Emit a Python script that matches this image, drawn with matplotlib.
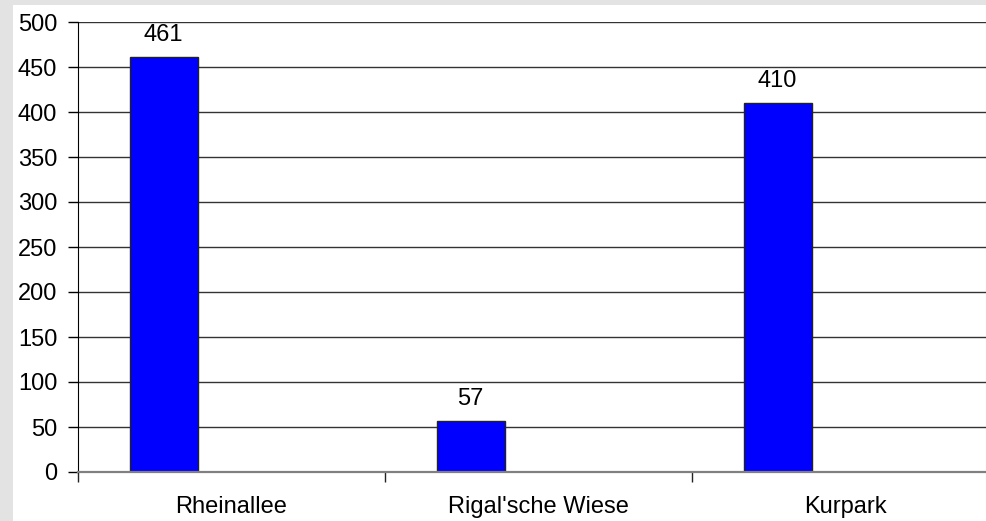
import matplotlib.pyplot as plt
from matplotlib.patches import Rectangle
import numpy as np

plt.rcParams["font.family"] = ["Liberation Sans", "DejaVu Sans"]

categories = ["Rheinallee", "Rigal'sche Wiese", "Kurpark"]
values = [461, 57, 410]
y_ticks = [0, 50, 100, 150, 200, 250, 300, 350, 400, 450, 500]

W, H = 986, 521
fig = plt.figure(figsize=(W / 100, H / 100), dpi=100, facecolor="#e3e3e3")

# white chart panel on top of the grey backdrop
fig.patches.append(Rectangle((13 / W, 0), 1, (H - 5) / H, transform=fig.transFigure,
                             facecolor="white", edgecolor="none", zorder=-5))

# plot area runs slightly past the right edge of the figure
ax = fig.add_axes([78 / W, 49 / H, 921 / W, 450 / H])
ax.set_facecolor("none")

x = np.arange(len(categories))
bar_w = 68 / 307
bars = ax.bar(x - bar_w, values, width=bar_w, color="#0000ff",
              edgecolor="#222222", linewidth=1, zorder=3)
for rect, v in zip(bars, values):
    ax.annotate(str(v), (rect.get_x() + rect.get_width() / 2, v),
                xytext=(0, 8), textcoords="offset points",
                ha="center", va="bottom", fontsize=17)

ax.set_xlim(-0.5, len(categories) - 0.5)
ax.set_ylim(0, 500)
ax.set_yticks(y_ticks)
ax.yaxis.grid(True, color="#333333", linewidth=1, zorder=1)
ax.set_axisbelow(True)

ax.set_xticks(x)
ax.set_xticklabels(categories)
ax.set_xticks(np.arange(-0.5, len(categories)), minor=True)
ax.tick_params(axis="x", which="major", length=0, pad=17, labelsize=17)
ax.tick_params(axis="x", which="minor", length=7, width=1, color="#222222")
ax.tick_params(axis="y", length=7, width=1, pad=8, labelsize=17)

for s in ["top", "right"]:
    ax.spines[s].set_visible(False)
ax.spines["left"].set_color("black")
ax.spines["bottom"].set_color("#808080")
ax.spines["bottom"].set_linewidth(1.6)
ax.spines["bottom"].set_zorder(4)

fig.savefig("out.png", dpi=100)
